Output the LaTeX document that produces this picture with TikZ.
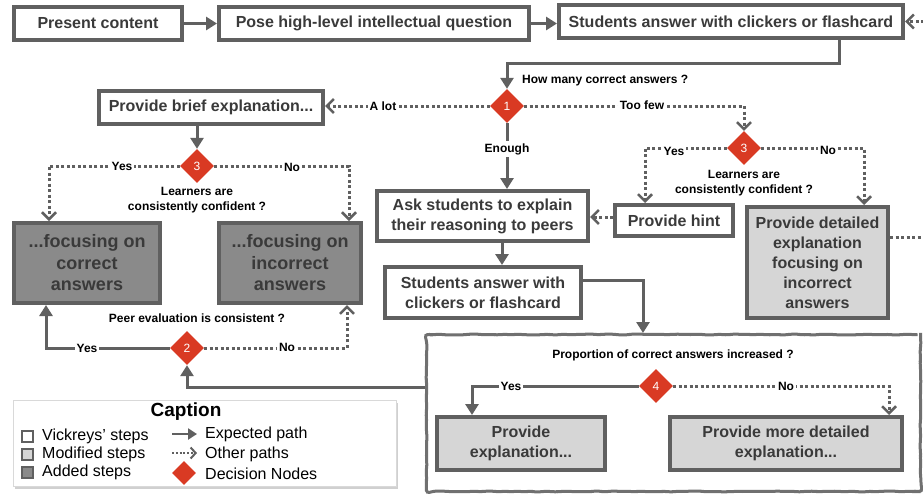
\documentclass[tikz,border=0pt]{standalone}
\usepackage{fontspec}
\setmainfont{Liberation Sans}
\usetikzlibrary{arrows.meta,shapes.geometric,decorations.pathmorphing,shadows}
\definecolor{lc}{RGB}{96,96,96}
\definecolor{tc}{RGB}{58,58,58}
\definecolor{lfill}{RGB}{214,214,214}
\definecolor{dfill}{RGB}{138,138,138}
\definecolor{dred}{RGB}{217,58,35}
\definecolor{bigc}{RGB}{112,112,112}
\newcommand\bxf{\fontsize{16}{20}\selectfont\bfseries}
\newcommand\dkf{\fontsize{18}{21.5}\selectfont\bfseries}
\newcommand\lbf{\fontsize{12}{14.5}\selectfont\bfseries}
\newcommand\lgf{\fontsize{16}{18}\selectfont}
\begin{document}
\begin{tikzpicture}[x=1pt,y=-1pt,
  box/.style={draw=lc, line width=4pt, fill=white, font=\bxf, text=tc, align=center, inner sep=0pt},
  lbox/.style={box, fill=lfill},
  dbox/.style={box, fill=dfill, font=\dkf},
  dia/.style={diamond, fill=dred, inner sep=0pt, minimum width=34pt, minimum height=34pt, text=white, font=\fontsize{12}{12}\selectfont},
  sol/.style={draw=lc, line width=3pt, -{Triangle[width=13pt,length=11pt]}},
  dot/.style={draw=lc, line width=3pt, dash pattern=on 3pt off 2.5pt, -{Straight Barb[width=14pt,length=7pt,line width=2.5pt]}},
  lab/.style={fill=white, inner sep=2pt, font=\lbf, text=black},
  qlab/.style={inner sep=0pt, font=\lbf, text=black, align=center},
  sq/.style={draw=lc, line width=2pt, minimum width=11pt, minimum height=11pt, inner sep=0pt},
  lgt/.style={anchor=west, inner sep=0pt, font=\lgf, text=black}
]
\useasboundingbox (0,0) rectangle (923,496);
\clip (0,0) rectangle (923,496);
\fill[white] (0,0) rectangle (923,496);
\pgfmathsetseed{7}

% big container
\node[draw=bigc, line width=3pt, fill=white, minimum width=494pt, minimum height=157pt, inner sep=0pt,
      rounded corners=3pt, decorate, decoration={random steps, segment length=5pt, amplitude=0.5pt}]
      (big) at (673.5,413) {};

% boxes
\node[box, minimum width=168pt, minimum height=33pt] (present) at (98,23.5) {Present content};
\node[box, minimum width=310pt, minimum height=33pt] (pose) at (374,23.5) {Pose high-level intellectual question};
\node[box, minimum width=344pt, minimum height=33pt] (stud1) at (731,21.5) {Students answer with clickers or flashcard};
\node[box, minimum width=224pt, minimum height=33pt] (brief) at (211,107.5) {Provide brief explanation...};
\node[dbox, minimum width=146pt, minimum height=80pt] (correct) at (87,263) {...focusing on\\correct\\answers};
\node[dbox, minimum width=142pt, minimum height=80pt] (incorrect) at (290,263) {...focusing on\\incorrect\\answers};
\node[box, minimum width=211pt, minimum height=50pt] (ask) at (482.5,216) {Ask students to explain\\their reasoning to peers};
\node[box, minimum width=196pt, minimum height=51pt] (stud2) at (483,292.5) {Students answer with\\clickers or flashcard};
\node[box, minimum width=118pt, minimum height=31pt] (hint) at (674,220.5) {Provide hint};
\node[lbox, minimum width=141pt, minimum height=111pt] (detailed) at (817.5,262.5) {Provide detailed\\explanation\\focusing on\\incorrect\\answers};
\node[lbox, minimum width=168pt, minimum height=53pt] (explA) at (521,443.5) {Provide\\explanation...};
\node[lbox, minimum width=232pt, minimum height=53pt] (explB) at (786,443.5) {Provide more detailed\\explanation...};

% decision nodes
\node[dia] (d1) at (507,106) {1};
\node[dia] (d3a) at (197,166) {3};
\node[dia] (d3b) at (744,148) {3};
\node[dia] (d2) at (187,348) {2};
\node[dia] (d4) at (656,386) {4};

% helper coordinates
\coordinate (k1) at (839,63);
\coordinate (kya) at (49,166);
\coordinate (kna) at (349,166);
\coordinate (k2y) at (46,348);
\coordinate (k2n) at (347,348);
\coordinate (kb) at (187,387);
\coordinate (kyb) at (645,148);
\coordinate (knb) at (864,148);
\coordinate (ks2) at (643,280);
\coordinate (kr1) at (945,237);
\coordinate (k4y) at (472,386);
\coordinate (k4n) at (889,386);
\coordinate (kxa) at (502,0);
\coordinate (kh) at (0,217);

% connectors
\draw[sol] (present) -- (pose);
\draw[sol] (pose.east) -- (pose.east -| stud1.west);
\draw[sol] (stud1.south -| k1) -- (k1) -| (d1.north);
\draw[dot] (d1.west) -- (d1.west -| brief.east);
\draw[dot] (d1.east) -| (d3b.north);
\draw[sol] (d1.south) -- (d1.south |- ask.north);
\draw[sol] (brief.south -| d3a) -- (d3a.north);
\draw[dot] (d3a.west) -| (kya |- correct.north);
\draw[dot] (d3a.east) -| (kna |- incorrect.north);
\draw[sol] (d2.west) -| (k2y |- correct.south);
\draw[dot] (d2.east) -| (k2n |- incorrect.south);
\draw[sol] (big.west |- kb) -| (d2.south);
\draw[sol] (ask.south -| kxa) -- (stud2.north -| kxa);
\draw[sol] (stud2.east |- ks2) -| (big.north -| ks2);
\draw[dot] (d3b.west) -| (kyb |- hint.north);
\draw[dot] (d3b.east) -| (knb |- detailed.north);
\draw[dot] (hint.west |- kh) -- (ask.east |- kh);
\draw[dot] (detailed.east |- kr1) -- (kr1) |- (stud1.east);
\draw[sol] (d4.west) -| (k4y |- explA.north);
\draw[dot] (d4.east) -| (k4n |- explB.north);

% labels on connectors
\node[lab] (lalot) at (383,106) {A lot};
\node[lab] (ltoofew) at (642,105) {Too few};
\node[lab] (lenough) at (507,149) {Enough};
\node[lab] (ly3a) at (122,166) {Yes};
\node[lab] (ln3a) at (292,167) {No};
\node[lab] (ly2) at (87,348) {Yes};
\node[lab] (ln2) at (287,347) {No};
\node[lab] (ly3b) at (674,151) {Yes};
\node[lab] (ln3b) at (828,150) {No};
\node[lab] (ly4) at (511,386) {Yes};
\node[lab] (ln4) at (786,386) {No};

% questions
\node[qlab, anchor=west] (q1) at (522,81) {How many correct answers ?};
\node[qlab] (q3a) at (197,200) {Learners are\\consistently confident ?};
\node[qlab] (q3b) at (744,183) {Learners are\\consistently confident ?};
\node[qlab] (q2) at (197,318) {Peer evaluation is consistent ?};
\node[qlab] (q4) at (673,355) {Proportion of correct answers increased ?};

% legend
\node[draw=gray!30, line width=1pt, fill=white, minimum width=383pt, minimum height=86pt, inner sep=0pt,
      drop shadow={shadow xshift=1.5pt, shadow yshift=-2pt, fill=gray!60, opacity=0.6}] (leg) at (205,443.5) {};
\node[inner sep=0pt, font=\fontsize{19}{20}\selectfont\bfseries] (capt) at (186,412) {Caption};
\node[sq, fill=white] (s1) at (27,436) {};
\node[sq, fill=lfill] (s2) at (27,454) {};
\node[sq, fill=dfill] (s3) at (27,472) {};
\node[lgt] (t1) at (42,436) {Vickreys’ steps};
\node[lgt] (t2) at (42,454) {Modified steps};
\node[lgt] (t3) at (42,472) {Added steps};
\coordinate (la1) at (172,434);
\coordinate (la2) at (197,434);
\coordinate (lb1) at (172,453);
\coordinate (lb2) at (197,453);
\draw[draw=lc, line width=2.5pt, -{Triangle[width=11pt,length=9pt]}] (la1) -- (la2);
\draw[draw=lc, line width=2pt, dash pattern=on 2pt off 1.8pt, -{Straight Barb[width=11pt,length=5pt,line width=2pt]}] (lb1) -- (lb2);
\node[dia, minimum width=24pt, minimum height=24pt] (ld) at (184,473) {};
\node[lgt] (t4) at (205,434) {Expected path};
\node[lgt] (t5) at (205,454) {Other paths};
\node[lgt] (t6) at (205,474) {Decision Nodes};
\end{tikzpicture}
\end{document}
